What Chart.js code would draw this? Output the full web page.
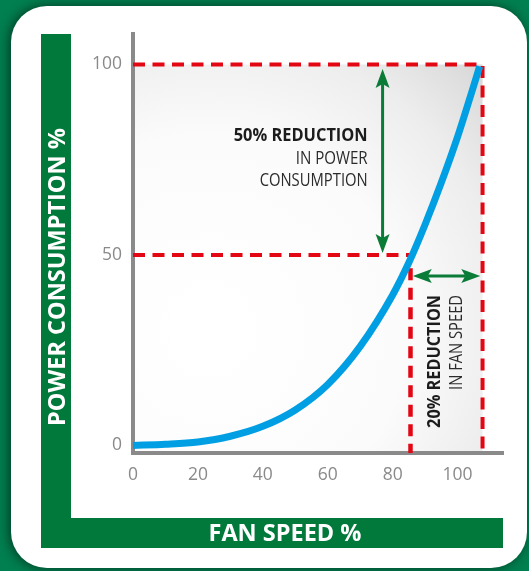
<!DOCTYPE html>
<html>
<head>
<meta charset="utf-8">
<script src="https://cdn.jsdelivr.net/npm/chart.js@4.4.1/dist/chart.umd.min.js"></script>
<style>
html, body { margin: 0; padding: 0; background: #007f50; }
#fan_chart { display: block; }
</style>
</head>
<body>
<canvas id="fan_chart" width="529" height="571"></canvas>
<script>
// fan speed % vs power consumption %
var fanSpeed = [0, 10, 20, 30, 40, 50, 60, 70, 80, 85, 90, 95, 100, 105, 106.8];
var powerUse = [0, 0.3, 0.9, 2.4, 5.0, 9.3, 16, 26, 39.5, 48, 58, 69, 81, 94.5, 99.5];

var xTicks = [0, 20, 40, 60, 80, 100];
var yTicks = [0, 50, 100];

// where the red guide lines sit
var fullSpeed = 107.7;
var reducedSpeed = 85.5;
var fullPower = 100;
var reducedPower = 50;
var axisBase = -2;

// green arrows: [x1, y1, x2, y2]
var powerArrow = [76.9, 98.8, 76.9, 50.5];
var speedArrow = [86.2, 44.5, 107, 44.5];

var powerNote = ['50% REDUCTION', 'IN POWER', 'CONSUMPTION'];
var speedNote = ['20% REDUCTION', 'IN FAN SPEED'];

function pts(xs, ys) {
    var out = [];
    for (var i = 0; i < xs.length; i++) out.push({x: xs[i], y: ys[i]});
    return out;
}

function drawArrow(ctx, x1, y1, x2, y2) {
    var ang = Math.atan2(y2 - y1, x2 - x1);
    var len = 19, half = 7, notch = 4;
    var c = Math.cos(ang), s = Math.sin(ang);
    ctx.strokeStyle = '#0b7b38';
    ctx.fillStyle = '#0b7b38';
    ctx.lineWidth = 3;
    ctx.beginPath();
    ctx.moveTo(x1 + c * (len - notch), y1 + s * (len - notch));
    ctx.lineTo(x2 - c * (len - notch), y2 - s * (len - notch));
    ctx.stroke();
    // heads
    [[x1, y1, 1], [x2, y2, -1]].forEach(function (h) {
        var d = h[2], tx = h[0], ty = h[1];
        var bx = tx + d * c * len, by = ty + d * s * len;
        ctx.beginPath();
        ctx.moveTo(tx, ty);
        ctx.lineTo(bx - s * half, by + c * half);
        ctx.lineTo(tx + d * c * (len - notch), ty + d * s * (len - notch));
        ctx.lineTo(bx + s * half, by - c * half);
        ctx.closePath();
        ctx.fill();
    });
}

var framePlugin = {
    id: 'frame',
    beforeDraw: function (chart) {
        var ctx = chart.ctx, area = chart.chartArea;
        var xs = chart.scales.x, ys = chart.scales.y;
        ctx.save();
        // white card with a soft shadow
        ctx.shadowColor = 'rgba(0,30,15,0.7)';
        ctx.shadowBlur = 12;
        ctx.shadowOffsetX = -2;
        ctx.fillStyle = '#ffffff';
        ctx.beginPath();
        ctx.roundRect(11, 6, 516, 562, 36);
        ctx.fill();
        ctx.restore();

        ctx.save();
        // green L frame
        ctx.fillStyle = '#00793a';
        ctx.fillRect(41, 34, 30, 514);
        ctx.fillRect(41, 518, 462, 30);

        // grey shading under the curve
        var gx0 = xs.getPixelForValue(0), gx1 = xs.getPixelForValue(fullSpeed);
        var gy0 = ys.getPixelForValue(fullPower), gy1 = area.bottom;
        var g = ctx.createRadialGradient(210, 330, 30, 210, 330, 400);
        g.addColorStop(0, '#ffffff');
        g.addColorStop(0.45, '#fbfbfb');
        g.addColorStop(0.72, '#ededed');
        g.addColorStop(1, '#d2d2d2');
        ctx.fillStyle = g;
        ctx.fillRect(gx0, gy0, gx1 - gx0, gy1 - gy0);

        // axis titles
        ctx.fillStyle = '#ffffff';
        ctx.font = 'bold 23.5px "Open Sans"';
        ctx.textAlign = 'center';
        ctx.textBaseline = 'middle';
        ctx.fillText('FAN SPEED %', 285, 534);
        ctx.translate(57, 277);
        ctx.rotate(-Math.PI / 2);
        ctx.fillText('POWER CONSUMPTION %', 0, 1);
        ctx.restore();
    },
    afterDatasetsDraw: function (chart) {
        var ctx = chart.ctx;
        var xs = chart.scales.x, ys = chart.scales.y;
        ctx.save();
        drawArrow(ctx, xs.getPixelForValue(powerArrow[0]), ys.getPixelForValue(powerArrow[1]),
            xs.getPixelForValue(powerArrow[2]), ys.getPixelForValue(powerArrow[3]));
        drawArrow(ctx, xs.getPixelForValue(speedArrow[0]), ys.getPixelForValue(speedArrow[1]),
            xs.getPixelForValue(speedArrow[2]), ys.getPixelForValue(speedArrow[3]));

        // power note, right aligned
        var nx = xs.getPixelForValue(72.3), ny = ys.getPixelForValue(81.2);
        ctx.textAlign = 'right';
        ctx.textBaseline = 'middle';
        ctx.fillStyle = '#1c1c1c';
        ctx.font = 'bold 18.5px "Open Sans"';
        ctx.fillText(powerNote[0], nx, ny, 134);
        ctx.fillStyle = '#2b2b2b';
        ctx.font = '18.5px "Open Sans"';
        ctx.fillText(powerNote[1], nx, ny + 22.5, 72);
        ctx.fillText(powerNote[2], nx, ny + 45, 108);

        // speed note, rotated
        var sy = ys.getPixelForValue(39.5);
        ctx.save();
        ctx.translate(xs.getPixelForValue(92.9), sy);
        ctx.rotate(-Math.PI / 2);
        ctx.fillStyle = '#1c1c1c';
        ctx.font = 'bold 18.5px "Open Sans"';
        ctx.fillText(speedNote[0], 0, 0, 133);
        ctx.restore();
        ctx.save();
        ctx.translate(xs.getPixelForValue(99.7), sy);
        ctx.rotate(-Math.PI / 2);
        ctx.fillStyle = '#2b2b2b';
        ctx.font = '18.5px "Open Sans"';
        ctx.fillText(speedNote[1], 0, 0, 95);
        ctx.restore();
        ctx.restore();
    }
};

var guide = {
    borderColor: '#e30613',
    borderWidth: 4,
    borderDash: [12, 7.5],
    pointRadius: 0,
    showLine: true,
    fill: false,
    clip: false,
    tension: 0
};

var ctx = document.getElementById('fan_chart').getContext('2d');
var fanChart = new Chart(ctx, {
    type: 'scatter',
    data: {
        datasets: [
            {
                label: 'Power',
                data: pts(fanSpeed, powerUse),
                showLine: true,
                borderColor: '#009fe3',
                borderWidth: 7,
                pointRadius: 0,
                cubicInterpolationMode: 'monotone',
                clip: false,
                order: 0
            },
            Object.assign({}, guide, {
                data: [{x: 0, y: fullPower}, {x: fullSpeed, y: fullPower}, {x: fullSpeed, y: axisBase}],
                borderJoinStyle: 'miter',
                order: 1
            }),
            Object.assign({}, guide, {
                data: [{x: 0, y: reducedPower}, {x: reducedSpeed, y: reducedPower}],
                order: 2
            }),
            Object.assign({}, guide, {
                data: [{x: reducedSpeed, y: 46.5}, {x: reducedSpeed, y: axisBase}],
                borderWidth: 4.5,
                order: 3
            })
        ]
    },
    options: {
        responsive: false,
        animation: false,
        devicePixelRatio: 1,
        layout: { padding: { top: 34, right: 26, left: 0, bottom: 0 } },
        plugins: {
            legend: { display: false },
            tooltip: { enabled: false }
        },
        scales: {
            x: {
                type: 'linear',
                min: 0,
                max: 114,
                grid: { display: false },
                border: { display: true, color: '#8a8a8a', width: 4 },
                afterBuildTicks: function (s) { s.ticks = xTicks.map(function (v) { return {value: v}; }); },
                afterFit: function (s) { s.height = 118; },
                ticks: {
                    color: '#8a8a8a',
                    padding: 4,
                    font: { family: 'Open Sans', size: 17.5 }
                }
            },
            y: {
                type: 'linear',
                min: axisBase,
                max: 108,
                grid: { display: false },
                border: { display: true, color: '#8a8a8a', width: 4 },
                afterBuildTicks: function (s) { s.ticks = yTicks.map(function (v) { return {value: v}; }); },
                afterFit: function (s) { s.width = 133; },
                ticks: {
                    color: '#8a8a8a',
                    padding: 3,
                    font: { family: 'Open Sans', size: 17.5 }
                }
            }
        }
    },
    plugins: [framePlugin]
});
</script>
</body>
</html>
